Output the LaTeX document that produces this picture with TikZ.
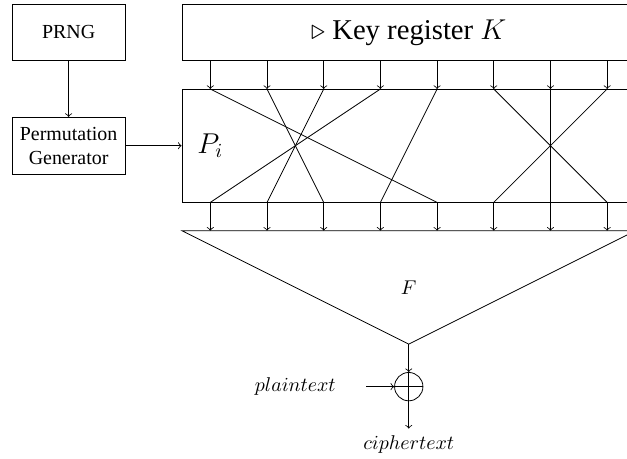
\documentclass[tikz,border=0pt]{standalone}
\usepackage{fontspec}
\setmainfont{Liberation Serif}
\tikzset{
	box/.style={draw, inner sep=0pt},
}
\begin{document}
\begin{tikzpicture}[>=to]
	\useasboundingbox (-3.71,-6.51) rectangle (7.35,1.57);

	\node[box, minimum width=2cm, minimum height=1cm] (prng) at (-2.5,1) {PRNG};
	\node[box, minimum width=2cm, minimum height=1cm, align=center] (gen) at (-2.5,-1) {Permutation\\Generator};
	\node[box, minimum width=8cm, minimum height=1cm, font=\Large] (key) at (3.5,1) {$\triangleright$ Key register $K$};
	\node[box, minimum width=8cm, minimum height=2cm] (perm) at (3.5,-1) {};
	\node[font=\Large] (pi) at (0,-1) {$P_i$};

	\draw[->] (prng) -- (gen);
	\draw[->] (gen) -- (perm);

	% one wire per key bit
	\foreach \i in {1,...,8} {
		\coordinate (k\i) at (\i-1,0.5);
		\coordinate (t\i) at (\i-1,0);
		\coordinate (b\i) at (\i-1,-2);
		\coordinate (f\i) at (\i-1,-2.5);
		\draw[->] (k\i) -- (t\i);
		\draw[->] (b\i) -- (f\i);
	}
	\foreach \a/\b in {1/5,2/3,3/2,4/1,5/4,6/8,7/7,8/6}
		\draw (t\a) -- (b\b);

	% F
	\coordinate (fl) at (-0.5,-2.5);
	\coordinate (fr) at (7.5,-2.5);
	\coordinate (apex) at (3.5,-4.5);
	\draw (fl) -- (fr) -- (apex) -- cycle;
	\node (fn) at (3.5,-3.5) {$F$};

	\node[draw, circle, minimum size=0.5cm, inner sep=0pt] (xor) at (3.5,-5.25) {};
	\draw (xor.west) -- (xor.east);
	\draw (xor.north) -- (xor.south);
	\draw[->] (apex) -- (xor.north);

	\node (pt) at (1.5,-5.25) {$plaintext$};
	\coordinate (pin) at (2.75,-5.25);
	\draw[->] (pin) -- (xor.west);

	\node (ct) at (3.5,-6.27) {$ciphertext$};
	\draw[->] (xor.south) -- (ct.north);
\end{tikzpicture}
\end{document}
